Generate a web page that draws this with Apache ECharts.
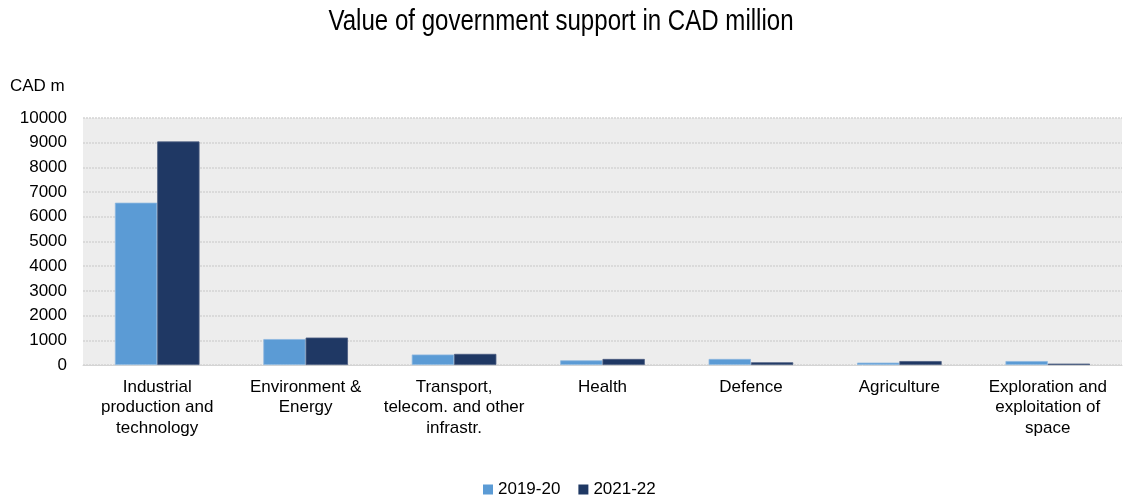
<!DOCTYPE html>
<html>
<head>
<meta charset="utf-8">
<script src="https://cdn.jsdelivr.net/npm/echarts@6/dist/echarts.min.js"></script>
<style>
  html, body { margin: 0; padding: 0; background: #ffffff; }
  #chart { width: 1123px; height: 500px; }
</style>
</head>
<body>
<div id="chart"></div>
<script>
// Government support by area, CAD million
const categories = [
  'Industrial\nproduction and\ntechnology',
  'Environment &\nEnergy',
  'Transport,\ntelecom. and other\ninfrastr.',
  'Health',
  'Defence',
  'Agriculture',
  'Exploration and\nexploitation of\nspace'
];
const seriesNames = ['2019-20', '2021-22'];
const values2019 = [6570, 1050, 425, 190, 245, 95, 160];
const values2021 = [9050, 1110, 450, 245, 110, 160, 55];
const yTicks = { min: 0, max: 10000, interval: 1000 };

const chart = echarts.init(document.getElementById('chart'));
const font = 'Liberation Sans, Arial, sans-serif';

chart.setOption({
  animation: false,
  graphic: [
    {
      // condensed title, squeezed horizontally around the page centre
      type: 'text',
      x: 561,
      y: 22,
      scaleX: 0.83,
      style: {
        text: 'Value of government support in CAD million',
        x: 0,
        y: 0,
        align: 'center',
        verticalAlign: 'middle',
        font: '29px "Liberation Sans", Arial, sans-serif',
        fill: '#000000'
      }
    },
    {
      type: 'text',
      left: 10,
      top: 78,
      style: { text: 'CAD m', font: '17px ' + font, fill: '#000000' }
    }
  ],
  legend: {
    top: 476,
    left: 478,
    itemWidth: 10,
    itemHeight: 10,
    itemGap: 18,
    icon: 'rect',
    itemStyle: { borderWidth: 0 },
    textStyle: { fontFamily: font, fontSize: 17, color: '#000000' },
    data: seriesNames
  },
  grid: {
    left: 83,
    right: 1,
    top: 118,
    bottom: 135,
    show: true,
    backgroundColor: '#EDEDED',
    borderWidth: 0
  },
  xAxis: {
    type: 'category',
    data: categories,
    axisLine: { show: true, lineStyle: { color: '#D4D4D4', width: 1 } },
    axisTick: { show: false },
    axisLabel: {
      interval: 0,
      margin: 12,
      fontFamily: font,
      fontSize: 17,
      lineHeight: 20.5,
      color: '#000000',
      verticalAlign: 'top'
    }
  },
  yAxis: {
    type: 'value',
    min: yTicks.min,
    max: yTicks.max,
    interval: yTicks.interval,
    axisLine: { show: false },
    axisTick: { show: false },
    axisLabel: {
      margin: 16,
      fontFamily: font,
      fontSize: 17,
      color: '#000000',
      formatter: v => String(v)
    },
    splitLine: { show: true, lineStyle: { color: '#D4D4D4', width: 1.5, type: [2, 1] } }
  },
  series: [
    {
      name: seriesNames[0],
      type: 'bar',
      data: values2019,
      barGap: '0%',
      barCategoryGap: '43%',
      itemStyle: { color: '#5B9BD5', borderColor: '#8DB7E0', borderWidth: 0.8 }
    },
    {
      name: seriesNames[1],
      type: 'bar',
      data: values2021,
      barGap: '0%',
      barCategoryGap: '43%',
      itemStyle: { color: '#1F3864', borderColor: '#4A5C80', borderWidth: 0.8 }
    }
  ]
});
</script>
</body>
</html>
